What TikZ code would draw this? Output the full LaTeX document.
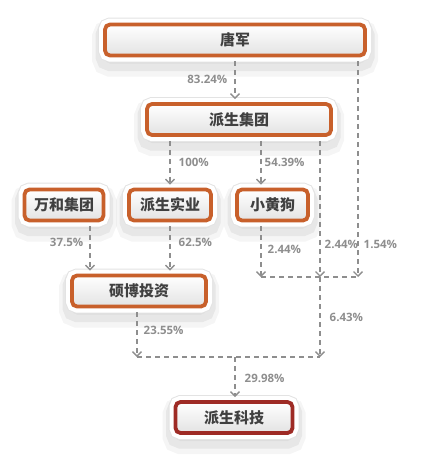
\documentclass[tikz,border=0pt]{standalone}
\usepackage{fontspec}
\setmainfont{Noto Sans CJK SC}
\newfontfamily\pctfont{Open Sans}
\usetikzlibrary{calc,arrows.meta,positioning}
\definecolor{boxorange}{HTML}{C8602B}
\definecolor{boxred}{HTML}{9E2B25}
\definecolor{linegray}{HTML}{8E8E8E}
\definecolor{txtgray}{HTML}{404040}

\begin{document}
\begin{tikzpicture}[x=1pt,y=-1pt,
    >={Straight Barb[length=4.5pt,width=9pt]},
    holder/.style={draw=boxorange,line width=3.8pt,rounded corners=5pt,
      top color=white,bottom color=gray!22,
      preaction={draw=black,fill=black,opacity=.04,line width=26pt,transform canvas={yshift=-8pt}},
      preaction={draw=black,fill=black,opacity=.06,line width=19pt,transform canvas={yshift=-6pt}},
      preaction={draw=gray!22,line width=14pt},
      preaction={draw=white,line width=12pt},
      font=\fontsize{15}{16}\selectfont\bfseries,text=txtgray,
      minimum height=31pt,inner sep=0pt},
    share/.style={draw=linegray,line width=1.4pt,dash pattern=on 5pt off 4pt},
    pct/.style={text=linegray,font=\pctfont\fontsize{11.5}{13}\selectfont\bfseries,inner sep=1pt}]
    \useasboundingbox (0,0) rectangle (425,463);
    % companies
    \node[holder,minimum width=260pt] (tang) at (235,40) {唐军};
    \node[holder,minimum width=184pt] (jt) at (239,119.5) {派生集团};
    \node[holder,minimum width=79pt] (wh) at (64,205) {万和集团};
    \node[holder,minimum width=82pt] (sy) at (170,205) {派生实业};
    \node[holder,minimum width=71pt] (xhg) at (272.5,205) {小黄狗};
    \node[holder,minimum width=134pt] (sb) at (139,291) {硕博投资};
    \node[holder,draw=boxred,minimum width=117pt] (kj) at (234,417.5) {派生科技};
    % junctions
    \coordinate (r1) at (261,277);
    \coordinate (m1) at (320,277);
    \coordinate (r2) at (358,277);
    \coordinate (b1) at (137,357);
    \coordinate (bm) at (235,357);
    \coordinate (b2) at (320,357);
    % shares
    \draw[share,->,shorten <=4pt,shorten >=3pt] (tang.south) -- (tang.south |- jt.north)
        node[pct,midway,left=6pt]{83.24\%};
    \draw[share,->,shorten <=4pt] (tang.south -| r2) -- (r2)
        node[pct,pos=.85,right=4pt]{1.54\%};
    \draw[share,->,shorten <=4pt,shorten >=3pt] (sy.north |- jt.south) -- (sy.north)
        node[pct,midway,right=7pt]{100\%};
    \draw[share,->,shorten <=4pt,shorten >=3pt] (jt.south -| r1) -- (xhg.north -| r1)
        node[pct,midway,right=2pt]{54.39\%};
    \draw[share,->,shorten <=4pt] (jt.south -| m1) -- (m1)
        node[pct,pos=.77,right=3pt]{2.44\%};
    \draw[share,->,shorten <=4pt] (xhg.south -| r1) -- (r1)
        node[pct,midway,right=5pt]{2.44\%};
    \draw[share] (r1) -- (r2);
    \draw[share,->] (m1) -- (b2)
        node[pct,midway,right=8pt]{6.43\%};
    \draw[share,->,shorten <=4pt,shorten >=3pt] ([xshift=26pt]wh.south) -- ([xshift=26pt]wh.south |- sb.north)
        node[pct,pos=.4,left=5pt]{37.5\%};
    \draw[share,->,shorten <=4pt,shorten >=3pt] (sy.south) -- (sy.south |- sb.north)
        node[pct,pos=.4,right=7pt]{62.5\%};
    \draw[share,->,shorten <=4pt] (sb.south -| b1) -- (b1)
        node[pct,pos=.45,right=5pt]{23.55\%};
    \draw[share] (b1) -- (b2);
    \draw[share,->,shorten >=3pt] (bm) -- (bm |- kj.north)
        node[pct,midway,right=8pt]{29.98\%};
\end{tikzpicture}
\end{document}
